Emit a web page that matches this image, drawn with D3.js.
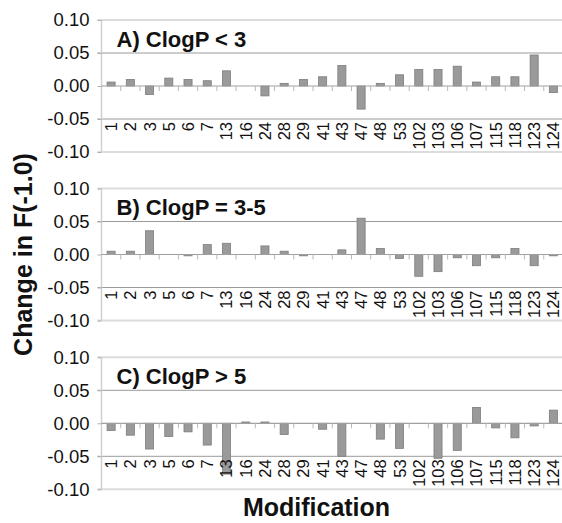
<!DOCTYPE html>
<html>
<head>
<meta charset="utf-8">
<script src="https://cdn.jsdelivr.net/npm/d3@7"></script>
<style>
  body { margin: 0; background: #fff; }
  text { font-family: "Liberation Sans", Arial, sans-serif; fill: #111; }
</style>
</head>
<body>
<svg id="chart" width="562" height="523"></svg>
<script>
// Modification numbers on the category axis
const modifications = ["1","2","3","5","6","7","13","16","24","28","29","41","43","47","48","53","102","103","106","107","115","118","123","124"];

// Change in F(-1.0) for each ClogP class
const clogpLow = [0.006,0.010,-0.013,0.012,0.010,0.008,0.023,0,-0.015,0.004,0.010,0.014,0.031,-0.035,0.004,0.017,0.025,0.025,0.030,0.006,0.014,0.014,0.047,-0.010];
const clogpMid = [0.005,0.005,0.036,0,-0.002,0.015,0.017,0,0.013,0.005,-0.002,0,0.007,0.055,0.009,-0.006,-0.033,-0.026,-0.005,-0.017,-0.005,0.009,-0.017,-0.002];
const clogpHigh = [-0.011,-0.018,-0.039,-0.020,-0.013,-0.033,-0.077,0.002,0.002,-0.017,0,-0.009,-0.050,0,-0.024,-0.038,0,-0.053,-0.041,0.024,-0.007,-0.022,-0.004,0.020];

const panelTitles = ["A) ClogP < 3", "B) ClogP = 3-5", "C) ClogP > 5"];
const yTicks = [-0.10, -0.05, 0.00, 0.05, 0.10];
const yTitle = "Change in F(-1.0)";
const xTitle = "Modification";

const panels = [
  { title: panelTitles[0], values: clogpLow },
  { title: panelTitles[1], values: clogpMid },
  { title: panelTitles[2], values: clogpHigh }
];

const svg = d3.select("#chart");
const plotLeft = 101.5, plotRight = 563;
const panelTops = [20, 188.5, 357.3];
const panelHeight = 132;

const x = d3.scaleBand()
  .domain(modifications)
  .range([plotLeft, plotRight])
  .paddingInner(0.58)
  .paddingOuter(0.29);

// boundaries between categories, where the small axis ticks sit
const step = (plotRight - plotLeft) / modifications.length;
const boundaries = d3.range(1, modifications.length).map(i => plotLeft + i * step);

panels.forEach((p, pi) => {
  const top = panelTops[pi];
  const y = d3.scaleLinear().domain([-0.1, 0.1]).range([top + panelHeight, top]);
  const g = svg.append("g");

  // horizontal gridlines: light frame lines at ±0.10, darker lines at ±0.05
  g.selectAll("line.grid")
    .data(yTicks.filter(t => t !== 0))
    .join("line")
    .attr("x1", plotLeft - 4).attr("x2", plotRight)
    .attr("y1", d => y(d)).attr("y2", d => y(d))
    .attr("stroke", d => Math.abs(d) > 0.07 ? "#dcdcdc" : "#9a9a9a")
    .attr("stroke-width", d => Math.abs(d) > 0.07 ? 2 : 1);

  // vertical value axis
  g.append("line")
    .attr("x1", plotLeft).attr("x2", plotLeft)
    .attr("y1", y(0.1)).attr("y2", y(-0.1))
    .attr("stroke", "#d0d0d0").attr("stroke-width", 1.5);

  const yAxis = d3.axisLeft(y)
    .tickValues(yTicks)
    .tickFormat(d3.format(".2f"))
    .tickSize(4)
    .tickPadding(8);
  const ya = g.append("g").attr("transform", `translate(${plotLeft},0)`).call(yAxis);
  ya.select(".domain").remove();
  ya.selectAll(".tick line").attr("stroke", "#b0b0b0");
  ya.selectAll(".tick text")
    .attr("font-size", 18.5)
    .attr("fill", "#111")
    .text(d => d3.format(".2f")(d).replace("−", "-"));

  // bars
  g.selectAll("rect.bar")
    .data(p.values.map((v, i) => ({ k: modifications[i], v })))
    .join("rect")
    .attr("x", d => x(d.k))
    .attr("width", x.bandwidth())
    .attr("y", d => y(Math.max(0, d.v)))
    .attr("height", d => Math.abs(y(d.v) - y(0)))
    .attr("fill", "#9a9a9a")
    .attr("stroke", "#7d7d7d")
    .attr("stroke-width", 0.8);

  // zero axis with ticks between categories
  g.append("line")
    .attr("x1", plotLeft).attr("x2", plotRight)
    .attr("y1", y(0)).attr("y2", y(0))
    .attr("stroke", "#a0a0a0").attr("stroke-width", 1.2);
  g.selectAll("line.cat")
    .data(boundaries)
    .join("line")
    .attr("x1", d => d).attr("x2", d => d)
    .attr("y1", y(0)).attr("y2", y(0) + 5)
    .attr("stroke", "#b8b8b8").attr("stroke-width", 1);

  // rotated category labels hanging below the -0.05 line
  const labelTop = y(-0.05) + 3;
  g.selectAll("text.cat")
    .data(modifications)
    .join("text")
    .attr("transform", d => `translate(${x(d) + x.bandwidth() / 2},${labelTop}) rotate(-90)`)
    .attr("text-anchor", "end")
    .attr("dy", "0.36em")
    .attr("font-size", 16.5)
    .text(d => d);

  // panel title
  g.append("text")
    .attr("x", 116.5)
    .attr("y", top + 26.5)
    .attr("font-size", 22)
    .attr("font-weight", "bold")
    .text(p.title);
});

// shared axis titles
svg.append("text")
  .attr("transform", "translate(32,254.5) rotate(-90)")
  .attr("text-anchor", "middle")
  .attr("font-size", 25)
  .attr("font-weight", "bold")
  .text(yTitle);

svg.append("text")
  .attr("x", 316.5)
  .attr("y", 516)
  .attr("text-anchor", "middle")
  .attr("font-size", 25)
  .attr("font-weight", "bold")
  .text(xTitle);
</script>
</body>
</html>
